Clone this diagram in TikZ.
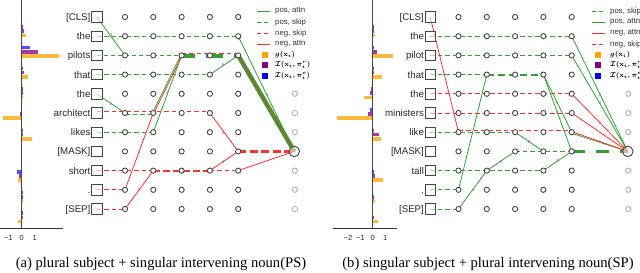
\documentclass[tikz,border=0pt]{standalone}
\usepackage{amsmath}
\usepackage{fontspec}
\setmainfont{Liberation Serif}
\setsansfont{Liberation Sans}
\usetikzlibrary{calc}
\pgfdeclarelayer{edges}
\pgfsetlayers{edges,main}
\definecolor{pg}{RGB}{50,160,50}
\definecolor{ng}{RGB}{250,50,50}
\definecolor{nodec}{RGB}{70,70,70}
\definecolor{gnode}{RGB}{175,175,175}
\definecolor{barO}{RGB}{255,185,60}
\definecolor{barP}{RGB}{160,60,160}
\definecolor{barB}{RGB}{80,80,255}
\definecolor{legO}{RGB}{255,165,0}
\definecolor{legP}{RGB}{128,0,128}
\definecolor{legB}{RGB}{0,0,255}
\definecolor{labc}{RGB}{120,120,120}
\newcommand\lnk[3]{\draw[#1] (#2.center) -- (#3.center);}
\newcommand\hb[6]{%
 \fill[barB] ({#1},{14.6+20.7*#3-10.2}) rectangle ({#1+#2*(#4)},{14.6+20.7*#3-6.6});
 \fill[barP] ({#1},{14.6+20.7*#3-6.0}) rectangle ({#1+#2*(#5)},{14.6+20.7*#3-2.4});
 \fill[barO] ({#1},{14.6+20.7*#3-1.8}) rectangle ({#1+#2*(#6)},{14.6+20.7*#3+1.8});}
\begin{document}
\begin{tikzpicture}[x=1bp,y=-1bp,
  tok/.style={rectangle,draw=nodec,line width=0.9bp,fill=white,fill opacity=0.6,draw opacity=1,minimum size=10.5bp,inner sep=0pt},
  neuron/.style={circle,draw=nodec,line width=0.9bp,fill=white,minimum size=5.2bp,inner sep=0pt},
  gneuron/.style={neuron,draw=gnode},
  outn/.style={circle,draw=nodec,line width=0.9bp,fill=white,fill opacity=0.5,draw opacity=1,minimum size=10.5bp,inner sep=0pt},
  toklab/.style={anchor=east,font=\sffamily\fontsize{9.7bp}{11bp}\selectfont,text=black!85,inner sep=0pt,text height=7bp,text depth=0bp},
  pskip/.style={draw=pg,line width=0.9bp,dash pattern=on 4.5bp off 3bp},
  nskip/.style={draw=ng,line width=0.9bp,dash pattern=on 4.5bp off 3bp},
  pskipm/.style={draw=pg,line width=1.4bp,dash pattern=on 4bp off 3bp},
  nskipm/.style={draw=ng,line width=1.8bp,dash pattern=on 7bp off 3bp},
  pskipmm/.style={draw=pg,line width=2.1bp,dash pattern=on 7bp off 4bp},
  pskipt/.style={draw=pg,line width=3.6bp,dash pattern=on 13bp off 11bp},
  nskipt/.style={draw=ng,line width=2.5bp,dash pattern=on 8bp off 3.5bp},
  pattn/.style={draw=pg,line width=0.8bp},
  nattn/.style={draw=ng,line width=0.8bp},
  pattnt/.style={draw=pg,line width=4.5bp},
  elab/.style={font=\sffamily\fontsize{4.5bp}{5bp}\selectfont,text=labc,inner sep=0pt},
  legtxt/.style={anchor=west,font=\sffamily\fontsize{7.8bp}{9bp}\selectfont,text=black!80,inner sep=0pt},
  legm/.style={anchor=west,font=\fontsize{6.6bp}{8bp}\selectfont,inner sep=0pt},
  legsq/.style={rectangle,minimum size=5.8bp,inner sep=0pt},
  ticklab/.style={font=\sffamily\fontsize{7.5bp}{9bp}\selectfont,text=black!85,inner sep=0pt},
  captxt/.style={font=\fontsize{14.6bp}{17bp}\selectfont,inner sep=0pt}]
\useasboundingbox (0,0) rectangle (640,272);

% ---------------- histograms ----------------
\hb{21.7}{13}{1}{0.08}{0.18}{0.3}
\hb{21.7}{13}{2}{0.64}{1.23}{2.9}
\hb{21.7}{13}{3}{0.08}{0.2}{0.49}
\hb{21.7}{13}{4}{0.02}{0.03}{0.05}
\hb{21.7}{13}{5}{-0.08}{-0.13}{-1.41}
\hb{21.7}{13}{6}{0.03}{0.08}{0.77}
\hb{21.7}{13}{8}{-0.33}{-0.18}{-0.31}
\hb{21.7}{13}{9}{0.02}{0.02}{0.02}
\hb{21.7}{13}{10}{0.02}{0.03}{-0.26}
\draw[nodec,line width=0.8bp] (21.7,0) -- (21.7,228);
\draw[black!80,line width=0.8bp] (0,228) -- (62.7,228);
\node[ticklab] (ta1) at (8.3,237.5) {−1};
\node[ticklab] (ta2) at (21.7,237.5) {0};
\node[ticklab] (ta3) at (34.7,237.5) {1};

\hb{372.7}{12.4}{1}{0.05}{0.1}{0.19}
\hb{372.7}{12.4}{2}{0.13}{0.32}{1.6}
\hb{372.7}{12.4}{3}{0.05}{0.1}{0.75}
\hb{372.7}{12.4}{4}{-0.13}{-0.21}{-0.67}
\hb{372.7}{12.4}{5}{-0.2}{-0.35}{-2.85}
\hb{372.7}{12.4}{6}{0.1}{0.5}{0.67}
\hb{372.7}{12.4}{8}{0.05}{0.21}{0.85}
\hb{372.7}{12.4}{9}{0.0}{0.02}{0.19}
\hb{372.7}{12.4}{10}{0.0}{0.02}{0.4}
\draw[nodec,line width=0.8bp] (372.7,0) -- (372.7,228);
\draw[black!80,line width=0.8bp] (333,228) -- (396.7,228);
\node[ticklab] (tb1) at (348,237.5) {−2};
\node[ticklab] (tb2) at (360.3,237.5) {−1};
\node[ticklab] (tb3) at (372.7,237.5) {0};
\node[ticklab] (tb4) at (385.1,237.5) {1};

% ---------------- nodes ----------------
\foreach \t [count=\i from 0] in {{[CLS]},the,pilots,that,the,architect,likes,{[MASK]},short,.,{[SEP]}}
  \node[toklab] (la-\i) at (90.6,{17+19.2*\i}) {\t};
\foreach \t [count=\i from 0] in {{[CLS]},the,pilot,that,the,ministers,like,{[MASK]},tall,.,{[SEP]}}
  \node[toklab] (lb-\i) at (424.1,{17+19.2*\i}) {\t};
\foreach \p/\xo in {a/96.7,b/430.2}{
  \foreach \r in {0,...,10}{
    \node[tok] (\p-0-\r) at (\xo,{17+19.2*\r}) {};
    \foreach \k in {1,...,5}
      \node[neuron] (\p-\k-\r) at ({\xo+28.3*\k},{17+19.2*\r}) {};
  }
  \foreach \r in {4,5,6,8,9,10}
    \node[gneuron] (\p-7-\r) at ({\xo+28.3*7},{17+19.2*\r}) {};
  \node[outn] (\p-7-7) at ({\xo+28.3*7-0.5},{17+19.2*7}) {};
}

% ---------------- edges ----------------
\begin{pgfonlayer}{edges}
% panel (a)
\lnk{pskip}{a-0-1}{a-5-1}
\lnk{pskipm}{a-0-2}{a-3-2}
\draw[pskipt] ([yshift=-0.7bp]a-3-2.center) -- ([yshift=-0.7bp]a-4-2.center);
\draw[pskipt] ([yshift=-0.7bp]a-4-2.center) -- ([yshift=-0.7bp]a-5-2.center);
\draw[nskip] ([yshift=2.2bp]a-3-2.center) -- ([yshift=2.2bp]a-5-2.center);
\lnk{pskip}{a-0-3}{a-4-3}
\draw[nskip] ([yshift=1.5bp]a-0-5.center) -- ([yshift=1.5bp]a-4-5.center);
\draw[pskip] ([yshift=-1bp]a-1-5.center) -- ([yshift=-1bp]a-2-5.center);
\lnk{pskip}{a-0-6}{a-2-6}
\lnk{nskip}{a-0-8}{a-2-8}
\lnk{nskipm}{a-2-8}{a-4-8}
\lnk{nskip}{a-4-8}{a-5-8}
\lnk{nskip}{a-0-9}{a-1-9}
\lnk{nskip}{a-0-10}{a-1-10}
\lnk{nskipt}{a-5-7}{a-7-7}
\lnk{pattn}{a-0-0}{a-1-2}
\lnk{pattn}{a-0-4}{a-1-5}
\draw[pattn] ([xshift=-0.9bp]a-2-5.center) -- ([xshift=-0.9bp]a-3-2.center);
\lnk{pattn}{a-2-6}{a-3-2}
\lnk{pattn}{a-4-3}{a-5-2}
\lnk{pattn}{a-5-1}{a-7-7}
\lnk{pattnt}{a-5-2}{a-7-7}
\lnk{nattn}{a-1-9}{a-2-5}
\lnk{nattn}{a-1-10}{a-2-8}
\draw[nattn] ([xshift=0.6bp]a-2-5.center) -- ([xshift=0.6bp]a-3-2.center);
\lnk{nattn}{a-4-5}{a-5-7}
\lnk{nattn}{a-4-8}{a-5-7}
\lnk{nattn}{a-5-8}{a-7-7}
\lnk{nattn}{a-5-2}{a-7-7}
% panel (b)
\lnk{pskip}{b-0-1}{b-5-1}
\lnk{pskip}{b-0-2}{b-5-2}
\lnk{pskip}{b-0-3}{b-2-3}
\lnk{pskipmm}{b-2-3}{b-4-3}
\lnk{nskip}{b-0-4}{b-5-4}
\lnk{nskip}{b-0-5}{b-5-5}
\draw[nskip] ([yshift=2bp]b-1-6.center) -- ([yshift=2bp]b-5-6.center);
\lnk{pskip}{b-0-6}{b-3-6}
\lnk{pskip}{b-3-7}{b-5-7}
\lnk{pskipt}{b-5-7}{b-7-7}
\lnk{pskip}{b-0-8}{b-4-8}
\lnk{pskip}{b-0-9}{b-1-9}
\lnk{pskip}{b-0-10}{b-1-10}
\lnk{pattn}{b-1-9}{b-2-3}
\lnk{pattn}{b-1-10}{b-2-8}
\lnk{pattn}{b-2-8}{b-3-7}
\lnk{pattn}{b-3-6}{b-4-7}
\lnk{pattn}{b-4-8}{b-5-7}
\lnk{pattn}{b-4-3}{b-5-6}
\lnk{pattn}{b-4-3}{b-5-7}
\lnk{pattn}{b-5-1}{b-7-7}
\lnk{pattn}{b-5-2}{b-7-7}
\draw[pattn] ([yshift=-1bp]b-5-6.center) -- (b-7-7.center);
\lnk{nattn}{b-0-0}{b-1-6}
\lnk{nattn}{b-5-4}{b-7-7}
\lnk{nattn}{b-5-5}{b-7-7}
\draw[nattn] ([yshift=0.6bp]b-5-6.center) -- (b-7-7.center);
\end{pgfonlayer}

% ---------------- edge labels ----------------
\node[elab] (ea1) at (111,35) {3};
\node[elab] (ea2) at (111,104) {2};
\node[elab] (ea3) at (139,152) {4};
\node[elab] (ea4) at (139,190) {6};
\node[elab] (ea5) at (167,93) {4};
\node[elab] (ea6) at (223,65) {6};
\node[elab] (ea7) at (223,133) {5};
\node[elab] (ea8) at (223,162) {4};
\node[elab] (ea9) at (267,95) {4};
\node[elab] (ea10) at (267,103) {4};
\node[elab] (eb1) at (444,75) {4};
\node[elab] (eb2) at (473,190) {4};
\node[elab] (eb3) at (501,162) {4};
\node[elab] (eb4) at (529,142) {8};
\node[elab] (eb5) at (557,161) {3};
\node[elab] (eb6) at (557,103) {4};
\node[elab] (eb7) at (557,113) {4};
\node[elab] (eb8) at (600,95) {5};
\node[elab] (eb9) at (600,103) {4};
\node[elab] (eb10) at (600,123) {5};
\node[elab] (eb11) at (600,142) {5};

% ---------------- legends ----------------
\coordinate (la1s) at (257,11.2); \coordinate (la1e) at (270,11.2);
\coordinate (la2s) at (257,22.2); \coordinate (la2e) at (270,22.2);
\coordinate (la3s) at (257,33.2); \coordinate (la3e) at (270,33.2);
\coordinate (la4s) at (257,44.2); \coordinate (la4e) at (270,44.2);
\draw[pattn,line width=1bp] (la1s) -- (la1e);
\draw[pskip,line width=1bp,dash pattern=on 4bp off 2.5bp] (la2s) -- (la2e);
\draw[nskip,line width=1bp,dash pattern=on 4bp off 2.5bp] (la3s) -- (la3e);
\draw[nattn,line width=1bp] (la4s) -- (la4e);
\node[legtxt] (lta1) at (275,11.2) {pos, attn};
\node[legtxt] (lta2) at (275,22.2) {pos, skip};
\node[legtxt] (lta3) at (275,33.2) {neg, skip};
\node[legtxt] (lta4) at (275,44.2) {neg, attn};
\node[legsq,fill=legO] (sqa1) at (265,54.6) {};
\node[legsq,fill=legP] (sqa2) at (265,65.3) {};
\node[legsq,fill=legB] (sqa3) at (265,76) {};
\node[legm] (lma1) at (275,54.6) {$\boldsymbol{g(\mathbf{x}_i)}$};
\node[legm] (lma2) at (275,65.3) {$\boldsymbol{\mathcal{I}(\mathbf{x}_i,\pi_i^{r})}$};
\node[legm] (lma3) at (275,76) {$\boldsymbol{\mathcal{I}(\mathbf{x}_i,\pi_i^{e})}$};

\coordinate (lb1s) at (592,11.2); \coordinate (lb1e) at (605,11.2);
\coordinate (lb2s) at (592,22.2); \coordinate (lb2e) at (605,22.2);
\coordinate (lb3s) at (592,33.2); \coordinate (lb3e) at (605,33.2);
\coordinate (lb4s) at (592,44.2); \coordinate (lb4e) at (605,44.2);
\draw[pskip,line width=1bp,dash pattern=on 4bp off 2.5bp] (lb1s) -- (lb1e);
\draw[pattn,line width=1bp] (lb2s) -- (lb2e);
\draw[nattn,line width=1bp] (lb3s) -- (lb3e);
\draw[nskip,line width=1bp,dash pattern=on 4bp off 2.5bp] (lb4s) -- (lb4e);
\node[legtxt] (ltb1) at (610,11.2) {pos, skip};
\node[legtxt] (ltb2) at (610,22.2) {pos, attn};
\node[legtxt] (ltb3) at (610,33.2) {neg, attn};
\node[legtxt] (ltb4) at (610,44.2) {neg, skip};
\node[legsq,fill=legO] (sqb1) at (598,54.6) {};
\node[legsq,fill=legP] (sqb2) at (598,65.3) {};
\node[legsq,fill=legB] (sqb3) at (598,76) {};
\node[legm] (lmb1) at (610,54.6) {$\boldsymbol{g(\mathbf{x}_i)}$};
\node[legm] (lmb2) at (610,65.3) {$\boldsymbol{\mathcal{I}(\mathbf{x}_i,\pi_i^{r})}$};
\node[legm] (lmb3) at (610,76) {$\boldsymbol{\mathcal{I}(\mathbf{x}_i,\pi_i^{e})}$};

% ---------------- captions ----------------
\node[captxt] (capa) at (161,264) {(a) plural subject + singular intervening noun(PS)};
\node[captxt] (capb) at (488,264) {(b) singular subject + plural intervening noun(SP)};
\end{tikzpicture}
\end{document}
